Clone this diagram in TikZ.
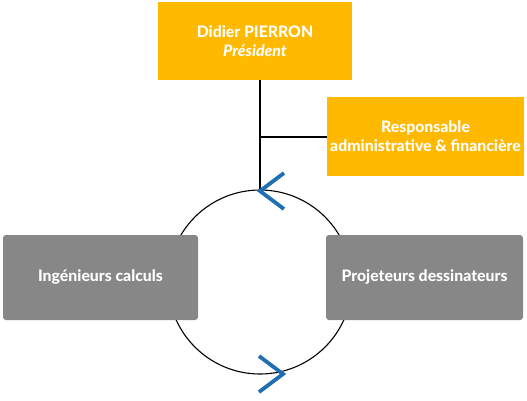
\documentclass[tikz,border=0pt]{standalone}
\usepackage{fontspec}
\setmainfont{Lato}[BoldFont={Lato Heavy},BoldItalicFont={Lato Heavy Italic}]
\definecolor{orangebox}{HTML}{FFB900}
\definecolor{graybox}{HTML}{878787}
\definecolor{chevblue}{HTML}{1F6FB2}
\begin{document}
\begin{tikzpicture}[x=1pt,y=-1pt,
  obox/.style={fill=orangebox,draw=none,text=white,font=\bfseries\fontsize{15.8}{19}\selectfont,align=center,inner sep=0pt},
  gbox/.style={fill=graybox,draw=none,rounded corners=3pt,text=white,font=\bfseries\fontsize{15.8}{19}\selectfont,align=center,inner sep=0pt},
  conn/.style={draw=black,line width=1.1pt},
  chev/.style={draw=chevblue,line width=3.8pt}]
\useasboundingbox (0,0) rectangle (527,400);
% circle
\coordinate (cc) at (260,282);
\draw[conn] (cc) circle[radius=92];
% boxes
\node[obox,minimum width=194pt,minimum height=78pt] (pres) at (255,41) {Didier PIERRON\\\textit{Président}};
\node[obox,minimum width=197pt,minimum height=79pt] (raf) at (425.5,136.5) {Responsable\\administrative \& financière};
\node[gbox,minimum width=195pt,minimum height=85pt] (ing) at (100.5,277.5) {Ingénieurs calculs};
\node[gbox,minimum width=197pt,minimum height=85pt] (proj) at (424.5,277.5) {Projeteurs dessinateurs};
% connectors
\coordinate (top) at (260,190);
\coordinate (br) at (260,137);
\draw[conn] (pres.south -| top) -- (top);
\draw[conn] (br) -- (raf.west |- br);
% chevrons
\coordinate (c1) at (260,191);
\coordinate (c1a) at (284,173);
\coordinate (c1b) at (284,209);
\draw[chev] (c1a) -- (c1) -- (c1b);
\coordinate (c2) at (283,374);
\coordinate (c2a) at (259,356);
\coordinate (c2b) at (259,392);
\draw[chev] (c2a) -- (c2) -- (c2b);
\end{tikzpicture}
\end{document}
